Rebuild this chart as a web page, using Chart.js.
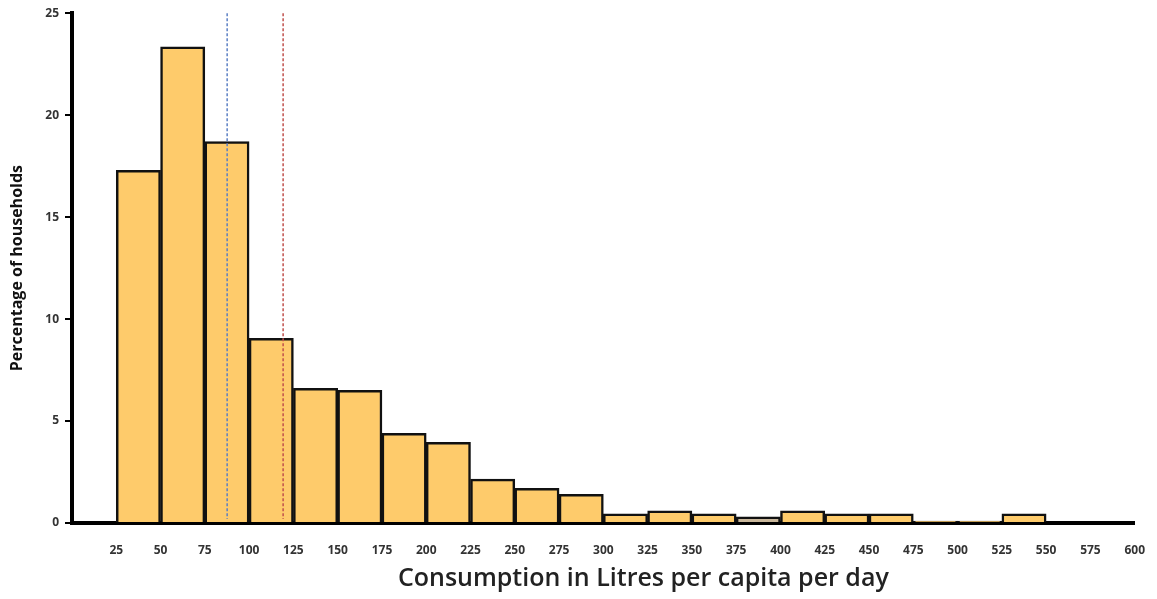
<!DOCTYPE html>
<html>
<head>
<meta charset="utf-8">
<script src="https://cdn.jsdelivr.net/npm/chart.js@4/dist/chart.umd.min.js"></script>
<style>
    html, body { margin: 0; padding: 0; background: #fff; }
    #wrap { width: 1157px; height: 599px; }
</style>
</head>
<body>
<div id="wrap"><canvas id="histChart" width="1157" height="599"></canvas></div>
<script>
// Bin starts (litres per capita per day), bin width 25
const binStarts = [25, 50, 75, 100, 125, 150, 175, 200, 225, 250, 275, 300, 325, 350, 375, 400, 425, 450, 475, 500, 525];
// Percentage of households in each bin
const percentages = [17.3, 23.35, 18.7, 9.05, 6.6, 6.5, 4.4, 3.95, 2.15, 1.7, 1.4, 0.45, 0.6, 0.45, 0.3, 0.6, 0.45, 0.45, 0.1, 0.1, 0.45];
// Dotted reference lines (median, mean)
const markerValues = [87.6, 119.2];
const markerColors = ['#5b7fc4', '#c0504d'];
const binWidth = 25;
const xTitle = 'Consumption in Litres per capita per day';

const barColors = binStarts.map(b => b === 375 ? '#c9b79b' : '#fecb6b');

// draw the two dotted vertical lines
const markerLines = {
    id: 'markerLines',
    afterDatasetsDraw(chart) {
        const ctx = chart.ctx;
        const x = chart.scales.x;
        const area = chart.chartArea;
        ctx.save();
        ctx.lineWidth = 1.5;
        ctx.setLineDash([3, 2]);
        markerValues.forEach((v, i) => {
            const px = x.getPixelForValue(v);
            ctx.strokeStyle = markerColors[i];
            ctx.beginPath();
            ctx.moveTo(px, area.top);
            ctx.lineTo(px, area.bottom - 4);
            ctx.stroke();
        });
        ctx.restore();
    }
};

// x axis title sits a bit right of the plot centre in the original
const xTitlePlugin = {
    id: 'xTitlePlugin',
    afterDraw(chart) {
        const ctx = chart.ctx;
        const area = chart.chartArea;
        ctx.save();
        ctx.font = '600 25px "Open Sans"';
        ctx.fillStyle = '#222';
        ctx.textAlign = 'center';
        ctx.textBaseline = 'middle';
        ctx.fillText(xTitle, (area.left + area.right) / 2 + 40, chart.height - 20);
        ctx.restore();
    }
};

const ctx = document.getElementById('histChart').getContext('2d');
new Chart(ctx, {
    type: 'bar',
    data: {
        datasets: [{
            data: binStarts.map((b, i) => ({ x: b + binWidth / 2, y: percentages[i] })),
            backgroundColor: barColors,
            borderColor: '#111',
            borderWidth: 2.5,
            borderSkipped: 'bottom',
            categoryPercentage: 1,
            barPercentage: 1
        }]
    },
    options: {
        responsive: false,
        animation: false,
        layout: { padding: { top: 13, right: 20, bottom: 2, left: 0 } },
        plugins: {
            legend: { display: false },
            tooltip: { enabled: false }
        },
        scales: {
            x: {
                type: 'linear',
                offset: false,
                min: 0,
                max: 600,
                afterFit: s => { s.height = 74; },
                ticks: {
                    stepSize: 25,
                    autoSkip: false,
                    maxRotation: 0,
                    padding: 12,
                    color: '#333',
                    font: { family: 'Open Sans', size: 12, weight: 'bold' },
                    callback: v => v === 0 ? '' : v
                },
                grid: { display: false },
                border: { color: '#000', width: 4 }
            },
            y: {
                min: 0,
                max: 25,
                afterFit: s => { s.width = 72; },
                ticks: {
                    stepSize: 5,
                    padding: 6,
                    color: '#333',
                    font: { family: 'Open Sans', size: 12, weight: 'bold' }
                },
                grid: { drawOnChartArea: false, drawTicks: true, tickLength: 7, color: '#000', lineWidth: 2 },
                border: { color: '#000', width: 4 },
                title: {
                    display: true,
                    text: 'Percentage of households',
                    color: '#111',
                    padding: { top: 8, bottom: 4 },
                    font: { family: 'Open Sans', size: 16, weight: 'bold' }
                }
            }
        }
    },
    plugins: [markerLines, xTitlePlugin]
});
</script>
</body>
</html>
